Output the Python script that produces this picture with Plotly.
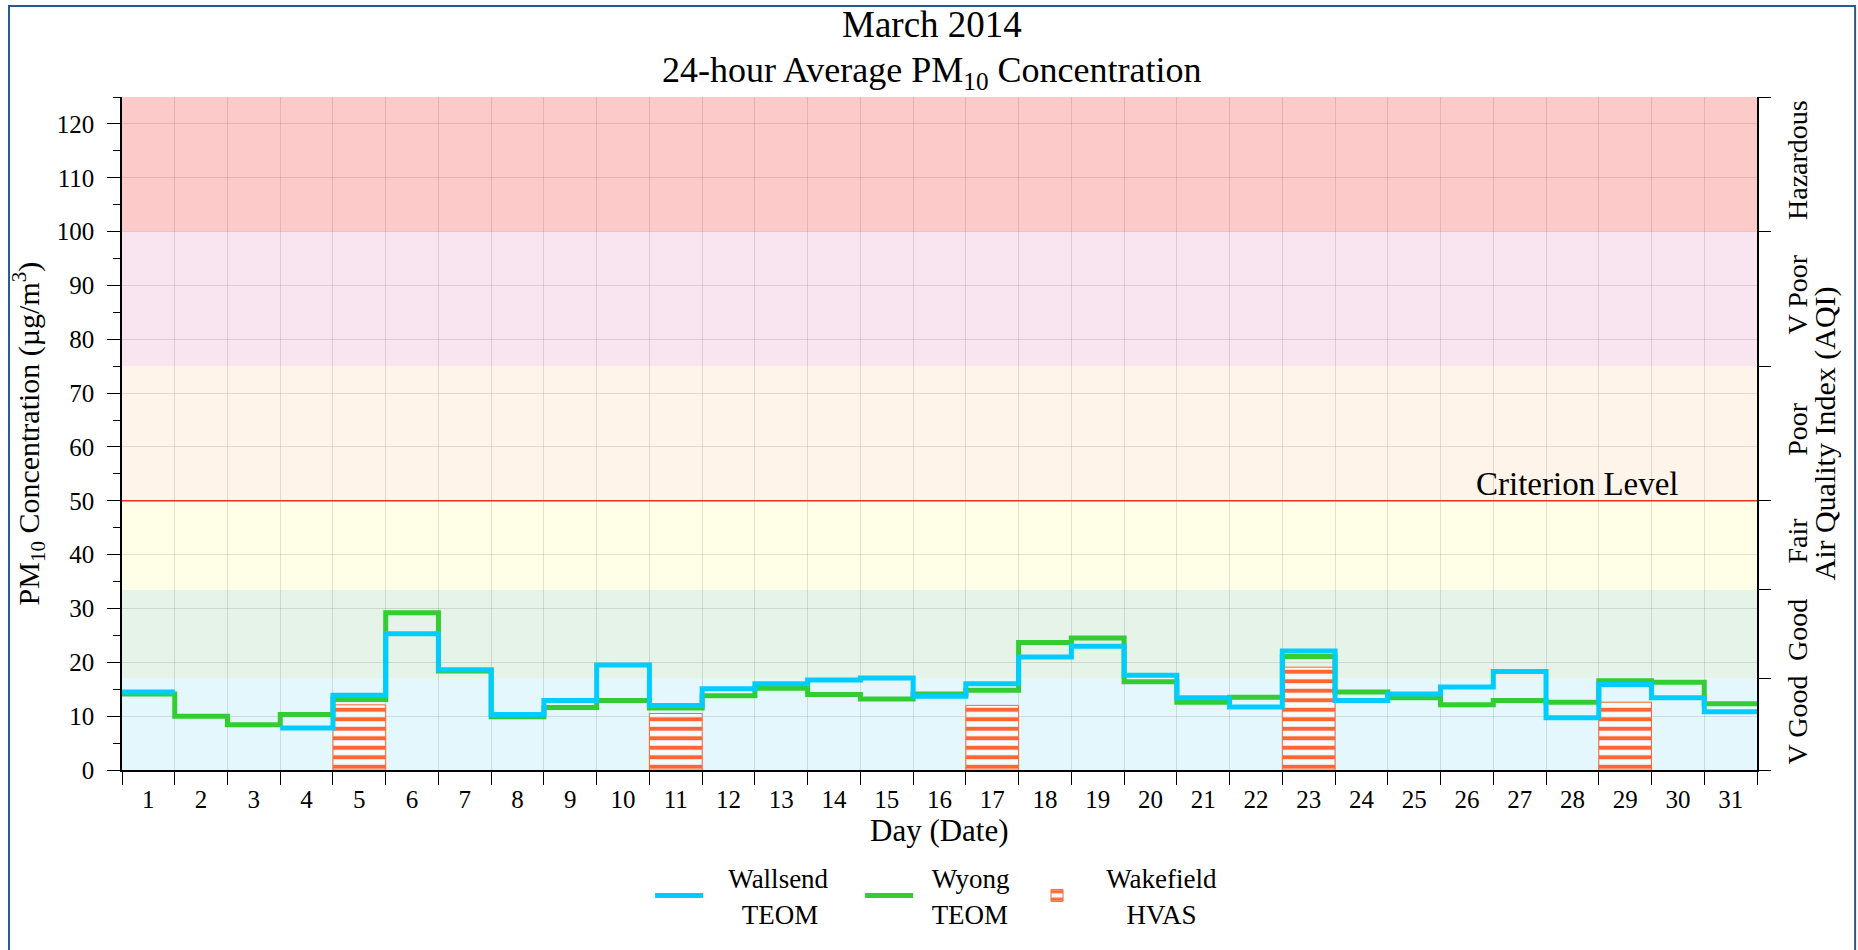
import plotly.graph_objects as go

# ---------------- data ----------------
days = list(range(1, 32))
wallsend = [14.5, None, None, 7.8, 13.9, 25.3, 18.6, 10.3, 12.9, 19.5, 12.0,
            15.1, 16.0, 16.7, 17.1, 13.7, 16.0, 21.0, 23.0, 17.6, 13.4, 11.7,
            22.1, 12.9, 14.1, 15.4, 18.3, 9.7, 15.9, 13.4, 10.8]
wyong = [14.1, 10.0, 8.4, 10.3, 13.1, 29.2, 18.4, 9.9, 11.6, 12.9, 11.5,
         13.8, 15.2, 14.0, 13.2, 14.1, 14.8, 23.7, 24.5, 16.4, 12.6, 13.5,
         21.1, 14.5, 13.4, 12.1, 12.9, 12.6, 16.6, 16.3, 12.3]
wakefield_days = [5, 11, 17, 23, 29]
wakefield = [12.1, 10.5, 12.0, 19.1, 12.6]

aqi_bounds = [0, 17, 33.5, 50, 75, 100, 125]
aqi_labels = ["V Good", "Good", "Fair", "Poor", "V Poor", "Hazardous"]
aqi_colors = ["#e4f7fc", "#e6f3e8", "#fffee6", "#fef4ea", "#f9e5ef", "#fdcaca"]
criterion = 50
y_ticks = list(range(0, 121, 10))

FONT = "Liberation Serif"
NB = "\u00a0"


def step_xy(values):
    xs, ys = [], []
    for d, v in zip(days, values):
        if v is None:
            xs.append(None)
            ys.append(None)
            continue
        xs += [d - 0.5, d + 0.5]
        ys += [v, v]
    return xs, ys


fig = go.Figure()

fig.add_trace(go.Bar(
    x=wakefield_days, y=wakefield, width=1,
    name=NB * 3 + "Wakefield" + "<br>" + NB * 6 + "HVAS", legendrank=3,
    marker=dict(color="#ff6633", line=dict(color="#ff6633", width=1),
                pattern=dict(shape="-", fgcolor="#ff6633", bgcolor="rgba(255,255,255,0.6)",
                             size=9.5, solidity=0.42, fillmode="replace")),
    hoverinfo="x+y",
))

wx, wy = step_xy(wyong)
fig.add_trace(go.Scatter(
    x=wx, y=wy, mode="lines",
    name=NB * 2 + "Wyong" + NB * 2 + "<br>" + NB * 2 + "TEOM" + NB * 2,
    legendrank=2, line=dict(color="#33cc33", width=5), connectgaps=False,
))

bx, by = step_xy(wallsend)
fig.add_trace(go.Scatter(
    x=bx, y=by, mode="lines",
    name=NB * 3 + "Wallsend" + NB * 4 + "<br>" + NB * 5 + "TEOM", legendrank=1,
    line=dict(color="#00ccff", width=5), connectgaps=False,
))

# dummy traces so the right-hand axes render
mids = [(a + b) / 2 for a, b in zip(aqi_bounds[:-1], aqi_bounds[1:])]
fig.add_trace(go.Scatter(x=[None], y=[None], yaxis="y2", showlegend=False, hoverinfo="skip"))
fig.add_trace(go.Scatter(x=[None], y=[None], yaxis="y3", showlegend=False, hoverinfo="skip"))

# AQI bands
for i, col in enumerate(aqi_colors):
    fig.add_shape(type="rect", xref="x domain", yref="y", x0=0, x1=1,
                  y0=aqi_bounds[i], y1=aqi_bounds[i + 1],
                  fillcolor=col, line=dict(width=0), layer="below")

# criterion line
fig.add_shape(type="line", xref="x domain", yref="y", x0=0, x1=1,
              y0=criterion, y1=criterion, line=dict(color="#e8302a", width=1.5),
              layer="above")

# outer border
fig.add_shape(type="rect", xref="paper", yref="paper",
              x0=-0.0691, x1=1.0600, y0=-0.4, y1=1.1352,
              line=dict(color="#2a5b8c", width=2), fillcolor="rgba(0,0,0,0)",
              layer="above")

grid = "rgba(0,0,0,0.11)"

fig.update_layout(
    width=1858, height=950,
    margin=dict(l=122, r=101, t=97, b=180),
    paper_bgcolor="white", plot_bgcolor="white",
    font=dict(family=FONT, size=25, color="black"),
    barmode="overlay",
    showlegend=True,
    legend=dict(orientation="h", x=0.4979, xanchor="center", y=-0.187, yanchor="middle",
                font=dict(size=27), itemwidth=48, traceorder="normal",
                bgcolor="rgba(0,0,0,0)"),
    xaxis=dict(range=[0.5, 31.5], tickmode="array", tickvals=days,
               ticktext=[str(d) for d in days], ticks="", showgrid=False,
               showline=True, linecolor="black", linewidth=1.5, zeroline=False,
               tickfont=dict(size=25), ticklabelstandoff=6,
               minor=dict(tick0=0.5, dtick=1, ticks="outside", ticklen=13,
                          tickcolor="black", tickwidth=1.2, showgrid=True,
                          gridcolor=grid, gridwidth=1)),
    yaxis=dict(range=[0, 125], tickmode="array", tickvals=y_ticks,
               ticks="outside", ticklen=13, tickcolor="black", tickwidth=1.2,
               showline=True, linecolor="black", linewidth=1.5, zeroline=False,
               showgrid=True, gridcolor=grid, gridwidth=1,
               tickfont=dict(size=25), ticklabelstandoff=8,
               minor=dict(dtick=5, tick0=0, ticks="outside", ticklen=7,
                          tickcolor="black", tickwidth=1.2, showgrid=False)),
    yaxis2=dict(range=[0, 125], overlaying="y", side="right", anchor="x",
                tickmode="array", tickvals=mids, ticktext=aqi_labels,
                tickangle=-90, ticks="", showgrid=False, zeroline=False,
                showline=True, linecolor="black", linewidth=1.5,
                tickfont=dict(size=28), ticklabelstandoff=15),
    yaxis3=dict(range=[0, 125], overlaying="y", side="right", anchor="x",
                tickmode="array", tickvals=aqi_bounds, ticks="outside", ticklen=13,
                tickcolor="black", tickwidth=1.2, showticklabels=False,
                showgrid=False, zeroline=False, showline=False),
)

annotations = [
    dict(text="March 2014", x=0.4954, y=1.107, font=dict(size=37)),
    dict(text="24-hour Average PM<sub>10</sub> Concentration", x=0.4954, y=1.036,
         font=dict(size=36)),
    dict(text="Day (Date)", x=0.5, y=-0.0906, font=dict(size=31)),
    dict(text="PM<sub>10</sub> Concentration (\u00b5g/m<sup>3</sup>)", x=-0.0569, y=0.5,
         textangle=-90, font=dict(size=30)),
    dict(text="Air Quality Index (AQI)", x=1.041, y=0.5, textangle=-90,
         font=dict(size=30)),
]
for a in annotations:
    fig.add_annotation(xref="paper", yref="paper", showarrow=False,
                       xanchor="center", yanchor="middle", **a)

fig.add_annotation(text="Criterion Level", xref="x", yref="y", x=28.1, y=criterion,
                   xanchor="center", yanchor="bottom", showarrow=False,
                   font=dict(size=33), yshift=-3)

fig.write_html("out.html", config={"displayModeBar": False},
               post_script="document.body.style.margin='0';")
